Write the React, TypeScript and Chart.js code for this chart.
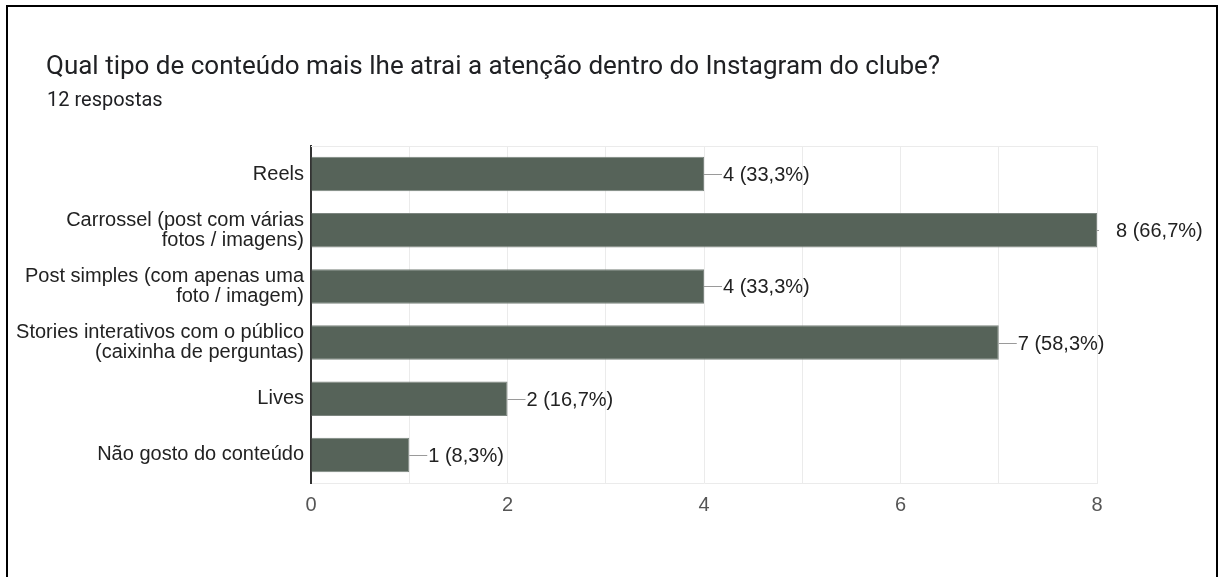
import React, { useEffect, useRef } from 'react';
import { Chart, registerables } from 'chart.js';

Chart.register(...registerables);

const titleText = 'Qual tipo de conteúdo mais lhe atrai a atenção dentro do Instagram do clube?';
const subtitleText = '12 respostas';

const categories: string[][] = [
  ['Reels'],
  ['Carrossel (post com várias', 'fotos / imagens)'],
  ['Post simples (com apenas uma', 'foto / imagem)'],
  ['Stories interativos com o público', '(caixinha de perguntas)'],
  ['Lives'],
  ['Não gosto do conteúdo'],
];
const counts = [4, 8, 4, 7, 2, 1];
const percents = ['33,3%', '66,7%', '33,3%', '58,3%', '16,7%', '8,3%'];
const xTickLabels = [0, 2, 4, 6, 8];
const xMin = 0;
const xMax = 8;

const LABEL_FONT = '"Liberation Sans", Arial, sans-serif';

const valueLabelPlugin = {
  id: 'valueLabels',
  beforeDatasetsDraw(chart: any) {
    const { ctx, chartArea } = chart;
    ctx.save();
    ctx.strokeStyle = '#ebebeb';
    ctx.lineWidth = 1;
    ctx.beginPath();
    ctx.moveTo(chartArea.left, Math.round(chartArea.top) + 0.5);
    ctx.lineTo(chartArea.right, Math.round(chartArea.top) + 0.5);
    ctx.stroke();
    ctx.restore();
  },
  afterDatasetsDraw(chart: any) {
    const { ctx, chartArea } = chart;
    const meta = chart.getDatasetMeta(0);
    ctx.save();
    meta.data.forEach((bar: any, i: number) => {
      const x = bar.x;
      const y = Math.round(bar.y) + 0.5;
      const stemEnd = Math.min(x + 18, chartArea.right + 2);
      ctx.strokeStyle = '#9a9a9a';
      ctx.lineWidth = 1;
      ctx.beginPath();
      ctx.moveTo(x, y);
      ctx.lineTo(stemEnd, y);
      ctx.stroke();
      ctx.fillStyle = '#222222';
      ctx.font = `20px ${LABEL_FONT}`;
      ctx.textBaseline = 'middle';
      ctx.textAlign = 'left';
      ctx.fillText(`${counts[i]} (${percents[i]})`, x + 19, y + 0.5);
    });
    ctx.restore();
  },
};

export default function App() {
  const canvasRef = useRef<HTMLCanvasElement | null>(null);

  useEffect(() => {
    if (!canvasRef.current) return;
    const chart = new Chart(canvasRef.current, {
      type: 'bar',
      data: {
        labels: categories,
        datasets: [
          {
            data: counts,
            backgroundColor: '#566359',
            borderColor: '#7c857f',
            borderWidth: 1,
            barPercentage: 0.615,
            categoryPercentage: 1,
          },
        ],
      },
      options: {
        indexAxis: 'y',
        animation: false,
        responsive: false,
        devicePixelRatio: 1,
        layout: { padding: { left: 0, top: 146, right: 122, bottom: 54 } },
        plugins: {
          legend: { display: false },
          tooltip: { enabled: false },
          title: { display: false },
        },
        scales: {
          x: {
            min: xMin,
            max: xMax,
            grid: { color: '#ebebeb', drawTicks: false, lineWidth: 1 },
            border: { display: true, color: '#ebebeb', width: 1 },
            ticks: {
              stepSize: 1,
              padding: 10,
              color: '#555555',
              font: { family: LABEL_FONT, size: 20 },
              callback: (v: any) => (xTickLabels.includes(Number(v)) ? String(v) : ''),
            },
            afterFit: (scale: any) => {
              scale.height = 40;
            },
          },
          y: {
            grid: { display: false, drawTicks: false },
            border: { display: true, color: '#333333', width: 2 },
            ticks: {
              padding: 7,
              color: '#222222',
              font: { family: LABEL_FONT, size: 20, lineHeight: 1.0 },
            },
            afterFit: (scale: any) => {
              scale.width = 311;
            },
          },
        },
      },
      plugins: [valueLabelPlugin],
    });
    return () => chart.destroy();
  }, []);

  return (
    <div
      style={{
        position: 'fixed',
        left: 0,
        top: 0,
        width: 1219,
        height: 577,
        overflow: 'hidden',
        background: '#ffffff',
      }}
    >
      <canvas ref={canvasRef} width={1219} height={577} style={{ position: 'absolute', left: 0, top: 0 }} />
      <div
        style={{
          position: 'absolute',
          left: 6,
          top: 5,
          width: 1212,
          height: 700,
          boxSizing: 'border-box',
          border: '2px solid #000',
          borderBottom: 'none',
          pointerEvents: 'none',
        }}
      />
      <div
        style={{
          position: 'absolute',
          left: 46,
          top: 52,
          fontFamily: 'Roboto, sans-serif',
          fontSize: 26,
          lineHeight: '26px',
          color: '#202124',
          whiteSpace: 'nowrap',
        }}
      >
        {titleText}
      </div>
      <div
        style={{
          position: 'absolute',
          left: 47,
          top: 89,
          fontFamily: 'Roboto, sans-serif',
          fontSize: 20,
          lineHeight: '20px',
          color: '#202124',
          whiteSpace: 'nowrap',
        }}
      >
        {subtitleText}
      </div>
    </div>
  );
}
